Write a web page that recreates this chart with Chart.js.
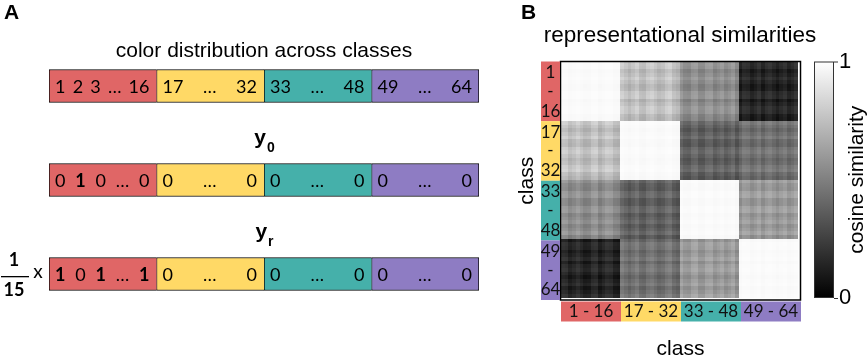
<!DOCTYPE html>
<html><head><meta charset="utf-8">
<script src="https://cdn.jsdelivr.net/npm/chart.js@4/dist/chart.umd.min.js"></script>
<style>
html,body{margin:0;padding:0;background:#fff;width:867px;height:357px;overflow:hidden}
#wa{position:absolute;left:0;top:0;width:500px;height:357px}
#wb{position:absolute;left:500px;top:0;width:367px;height:357px}
</style></head><body>
<div id="wa"><canvas id="ca" width="500" height="357"></canvas></div>
<div id="wb"><canvas id="cb" width="367" height="357"></canvas></div>
<script>
// ---------- data ----------
const groupLabels = ['1 - 16', '17 - 32', '33 - 48', '49 - 64'];
const groupStart = [1, 17, 33, 49];
const groupEnd = [16, 32, 48, 64];
const groupColors = ['#E06666', '#FFD966', '#45B0AA', '#8E7CC3'];
const groupSizes = [16, 16, 16, 16];
const vectorRows = ['colors', 'y0', 'yr'];
const rowTitles = ['color distribution across classes', 'y', 'y'];
const rowSubscripts = ['', '0', 'r'];
// tokens per group; "*" marks a bold token
const colorTokens = [['1', '2', '3', '…', '16'], ['17', '…', '32'], ['33', '…', '48'], ['49', '…', '64']];
const y0Tokens = [['0', '*1', '0', '…', '0'], ['0', '…', '0'], ['0', '…', '0'], ['0', '…', '0']];
const yrTokens = [['*1', '0', '*1', '…', '*1'], ['0', '…', '0'], ['0', '…', '0'], ['0', '…', '0']];
// mean cosine similarity between class groups
const blockSimilarity = [
  [0.98, 0.75, 0.55, 0.14],
  [0.75, 0.98, 0.38, 0.44],
  [0.55, 0.38, 0.98, 0.60],
  [0.14, 0.44, 0.60, 0.98]
];
// banding strength inside each block (diagonal blocks nearly flat)
const blockBanding = [
  [0.12, 1, 1, 1],
  [1, 0.12, 1, 1],
  [1, 1, 0.12, 1],
  [1, 1, 1, 0.12]
];
// per-class light/dark banding read from the stripes
const classOffset = [
  0.04, 0.03, -0.03, 0.00, 0.04, 0.00, -0.04, -0.03, 0.03, 0.04, -0.04, 0.00, 0.04, 0.03, -0.03, -0.04,
  0.04, 0.00, -0.04, 0.00, 0.04, -0.03, -0.04, 0.02, 0.04, 0.00, -0.04, -0.02, 0.03, 0.05, -0.02, -0.05,
  0.03, -0.02, -0.03, 0.03, 0.04, -0.03, -0.03, 0.03, 0.04, -0.03, 0.00, 0.03, -0.03, 0.00, 0.04, -0.04,
  -0.03, 0.03, 0.02, -0.03, 0.00, 0.04, -0.03, 0.02, 0.04, 0.00, -0.04, 0.00, 0.03, -0.03, 0.00, 0.04
];
const colorbarTicks = [0, 1];

// ---------- panel A ----------
const tokenRows = [colorTokens, y0Tokens, yrTokens];
const SANS = '"Liberation Sans", Arial, sans-serif';
const HUM = 'Lato, "Open Sans", sans-serif';

const panelA = {
  id: 'panelA',
  afterDatasetsDraw(chart) {
    const ctx = chart.ctx, xs = chart.scales.x, ys = chart.scales.y;
    ctx.save();
    ctx.fillStyle = '#000';
    ctx.font = 'bold 21px ' + SANS;
    ctx.textBaseline = 'top';
    ctx.textAlign = 'left';
    ctx.fillText('A', 4, 3);
    const cx = (xs.getPixelForValue(0) + xs.getPixelForValue(64)) / 2;
    vectorRows.forEach((r, ri) => {
      const yc = ys.getPixelForValue(ri);
      const bar = chart.getDatasetMeta(0).data[ri];
      const top = yc - bar.height / 2;
      // title
      ctx.textBaseline = 'alphabetic';
      if (ri === 0) {
        ctx.font = '21px ' + SANS;
        ctx.textAlign = 'center';
        ctx.fillText(rowTitles[ri], cx, top - 13);
      } else {
        ctx.font = 'bold 21px ' + SANS;
        const w1 = ctx.measureText(rowTitles[ri]).width;
        ctx.font = 'bold 14px ' + SANS;
        const w2 = ctx.measureText(rowSubscripts[ri]).width;
        const x0 = cx - (w1 + w2) / 2;
        ctx.textAlign = 'left';
        ctx.font = 'bold 21px ' + SANS;
        ctx.fillText(rowTitles[ri], x0, top - 20);
        ctx.font = 'bold 14px ' + SANS;
        ctx.fillText(rowSubscripts[ri], x0 + w1 + 1, top - 12);
      }
      // tokens
      let acc = 0;
      tokenRows[ri].forEach((toks, g) => {
        const a = xs.getPixelForValue(acc) + 6, b = xs.getPixelForValue(acc + groupSizes[g]) - 7;
        acc += groupSizes[g];
        const items = toks.map(t => {
          const bold = t.startsWith('*');
          const txt = bold ? t.slice(1) : t;
          ctx.font = (bold ? 'bold ' : '') + '18px ' + HUM;
          return { txt, bold, w: ctx.measureText(txt).width };
        });
        const tot = items.reduce((s, it) => s + it.w, 0);
        const gap = (b - a - tot) / (items.length - 1);
        let x = a;
        ctx.textAlign = 'left';
        ctx.textBaseline = 'middle';
        items.forEach(it => {
          ctx.font = (it.bold ? 'bold ' : '') + '18px ' + HUM;
          ctx.fillText(it.txt, x, yc + 1);
          x += it.w + gap;
        });
      });
    });
    // 1/15 x
    const y3 = ys.getPixelForValue(2);
    ctx.font = 'bold 18px ' + HUM;
    ctx.textAlign = 'center';
    ctx.textBaseline = 'alphabetic';
    ctx.fillText('1', 14, y3 - 8);
    ctx.fillText('15', 14, y3 + 22);
    ctx.fillRect(1, y3 + 2, 28, 1.3);
    ctx.font = '19px ' + HUM;
    ctx.textBaseline = 'middle';
    ctx.fillText('x', 38, y3 - 2);
    ctx.restore();
  }
};

new Chart(document.getElementById('ca'), {
  type: 'bar',
  data: {
    labels: vectorRows,
    datasets: groupColors.map((c, g) => ({
      label: groupLabels[g],
      data: vectorRows.map(() => groupSizes[g]),
      backgroundColor: c,
      borderColor: '#000',
      borderWidth: g < 3 ? { top: 1, bottom: 1, left: 1, right: 0 } : 1,
      borderSkipped: false,
      barThickness: 33
    }))
  },
  options: {
    indexAxis: 'y',
    responsive: false,
    animation: false,
    layout: { padding: { left: 49, right: 21, top: 39, bottom: 36 } },
    scales: {
      x: { stacked: true, min: 0, max: 64, display: false },
      y: { stacked: true, display: false }
    },
    plugins: { legend: { display: false }, tooltip: { enabled: false } }
  },
  plugins: [panelA]
});

// ---------- panel B ----------
const cells = [];
for (let i = 0; i < 64; i++) {
  for (let j = 0; j < 64; j++) {
    const bi = Math.floor(i / 16), bj = Math.floor(j / 16);
    let v = blockSimilarity[bi][bj] + blockBanding[bi][bj] * (classOffset[i] + classOffset[j]);
    v = Math.max(0, Math.min(1, v));
    cells.push({ x: j + 0.5, y: i + 0.5, v });
  }
}

const panelB = {
  id: 'panelB',
  beforeDatasetsDraw(chart) {
    const ctx = chart.ctx, xs = chart.scales.x, ys = chart.scales.y;
    ctx.save();
    chart.data.datasets[0].data.forEach(c => {
      const x0 = Math.round(xs.getPixelForValue(c.x - 0.5)), x1 = Math.round(xs.getPixelForValue(c.x + 0.5));
      const y0 = Math.round(ys.getPixelForValue(c.y - 0.5)), y1 = Math.round(ys.getPixelForValue(c.y + 0.5));
      const g = Math.round(255 * c.v);
      ctx.fillStyle = `rgb(${g},${g},${g})`;
      ctx.fillRect(x0, y0, x1 - x0, y1 - y0);
    });
    ctx.restore();
  },
  afterDatasetsDraw(chart) {
    const ctx = chart.ctx, ca = chart.chartArea;
    ctx.save();
    // frame
    const fl = ca.left - 0.5, ft = ca.top - 0.5, fr = ca.right + 2.5, fb = ca.bottom + 2.5;
    ctx.strokeStyle = '#000';
    ctx.lineWidth = 1.5;
    ctx.strokeRect(fl, ft, fr - fl, fb - ft);
    // class boxes
    const fh = (fb - ft) / 4, fw = (fr - fl) / 4;
    ctx.font = '17px ' + HUM;
    ctx.textAlign = 'center';
    ctx.textBaseline = 'middle';
    groupColors.forEach((c, g) => {
      const y0 = ft + g * fh;
      ctx.fillStyle = c;
      ctx.fillRect(fl - 19.5, y0, 19, fh);
      ctx.fillStyle = '#111';
      const xc = fl - 10;
      ctx.fillText(String(groupStart[g]), xc, y0 + 11);
      ctx.fillText('-', xc, y0 + fh / 2);
      ctx.fillText(String(groupEnd[g]), xc, y0 + fh - 10);
      const x0 = fl + 0.5 + g * fw;
      ctx.fillStyle = c;
      ctx.fillRect(x0, fb + 1.5, fw, 20);
      ctx.fillStyle = '#111';
      ctx.fillText(groupLabels[g], x0 + fw / 2, fb + 12);
    });
    // titles
    ctx.fillStyle = '#000';
    ctx.font = 'bold 21px ' + SANS;
    ctx.textAlign = 'left';
    ctx.textBaseline = 'top';
    ctx.fillText('B', 21, 3);
    ctx.font = '22.5px ' + SANS;
    ctx.textAlign = 'center';
    ctx.textBaseline = 'alphabetic';
    ctx.fillText('representational similarities', 180, 42);
    ctx.font = '21px ' + SANS;
    ctx.fillText('class', (fl + fr) / 2, 355);
    ctx.save();
    ctx.translate(27, (ft + fb) / 2);
    ctx.rotate(-Math.PI / 2);
    ctx.textBaseline = 'middle';
    ctx.fillText('class', 0, 0);
    ctx.restore();
    // colorbar
    const cbL = 314, cbR = 334, cbT = ft, cbB = fb - 2;
    const grad = ctx.createLinearGradient(0, cbB, 0, cbT);
    grad.addColorStop(0, '#000');
    grad.addColorStop(1, '#fff');
    ctx.fillStyle = grad;
    ctx.fillRect(cbL, cbT, cbR - cbL, cbB - cbT);
    ctx.strokeStyle = '#333';
    ctx.lineWidth = 1;
    ctx.strokeRect(cbL + 0.5, cbT + 0.5, cbR - cbL - 1, cbB - cbT - 1);
    ctx.fillStyle = '#000';
    ctx.textAlign = 'left';
    ctx.textBaseline = 'middle';
    ctx.font = '22px ' + SANS;
    colorbarTicks.forEach(t => {
      const y = cbB - t * (cbB - cbT);
      ctx.beginPath();
      ctx.moveTo(cbR, y + 0.5); ctx.lineTo(cbR + 4, y + 0.5); ctx.stroke();
      ctx.fillText(String(t), cbR + 5, y);
    });
    ctx.save();
    ctx.translate(357, (cbT + cbB) / 2);
    ctx.rotate(-Math.PI / 2);
    ctx.textAlign = 'center';
    ctx.font = '21px ' + SANS;
    ctx.fillText('cosine similarity', 0, 0);
    ctx.restore();
    ctx.restore();
  }
};

new Chart(document.getElementById('cb'), {
  type: 'scatter',
  data: { datasets: [{ data: cells, pointRadius: 0, pointHoverRadius: 0 }] },
  options: {
    responsive: false,
    animation: false,
    layout: { padding: { left: 61, right: 69, top: 62, bottom: 59.5 } },
    scales: {
      x: { type: 'linear', min: 0, max: 64, display: false },
      y: { type: 'linear', min: 0, max: 64, reverse: true, display: false }
    },
    plugins: { legend: { display: false }, tooltip: { enabled: false } }
  },
  plugins: [panelB]
});
</script>
</body></html>
